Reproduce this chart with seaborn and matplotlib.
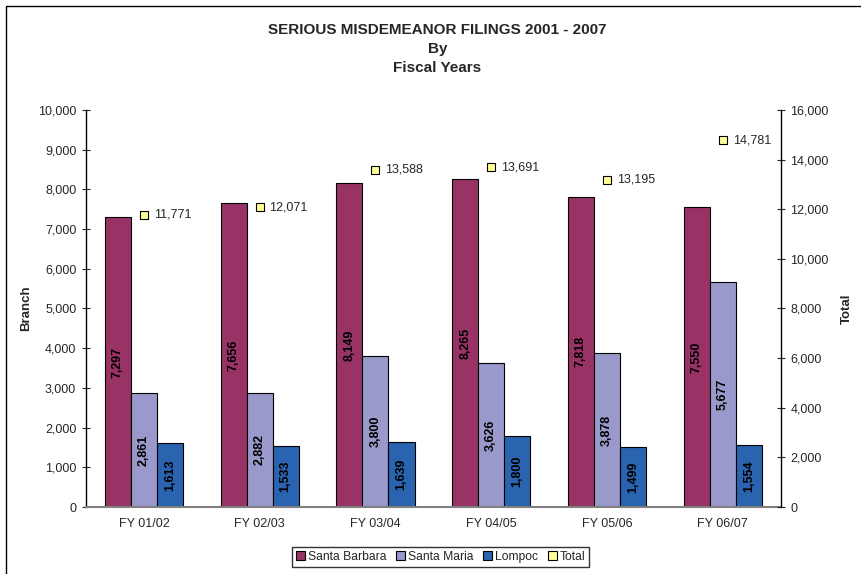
import numpy as np
import pandas as pd
import matplotlib
matplotlib.use('Agg')
import matplotlib.pyplot as plt
from matplotlib.patches import Rectangle, Patch
from matplotlib.ticker import FuncFormatter, MultipleLocator
import seaborn as sns

years = ['FY 01/02', 'FY 02/03', 'FY 03/04', 'FY 04/05', 'FY 05/06', 'FY 06/07']
santa_barbara = [7297, 7656, 8149, 8265, 7818, 7550]
santa_maria = [2861, 2882, 3800, 3626, 3878, 5677]
lompoc = [1613, 1533, 1639, 1800, 1499, 1554]
total = [11771, 12071, 13588, 13691, 13195, 14781]
branches = ['Santa Barbara', 'Santa Maria', 'Lompoc']
colors = ['#993366', '#9999CC', '#2A63B0']
title_lines = ['SERIOUS MISDEMEANOR FILINGS 2001 - 2007', 'By', 'Fiscal Years']

sns.set_style('white')
plt.rcParams['font.family'] = ['Liberation Sans', 'DejaVu Sans']

df = pd.DataFrame({
    'year': years * 3,
    'branch': sum([[b] * len(years) for b in branches], []),
    'count': santa_barbara + santa_maria + lompoc,
})

fig = plt.figure(figsize=(8.61, 5.74), dpi=100)
ax = fig.add_axes([0.0999, 0.1167, 0.8068, 0.6917])

sns.barplot(data=df, x='year', y='count', hue='branch', palette=colors,
            width=0.675, saturation=1, edgecolor='black', linewidth=0.8,
            ax=ax, legend=False)

# value labels inside bars
for cont in ax.containers:
    for rect in cont:
        h = rect.get_height()
        ax.text(rect.get_x() + rect.get_width() / 2, h / 2, format(int(round(h)), ','),
                rotation=90, ha='center', va='center', fontsize=9,
                fontweight='bold', color='black')

ax.set_xlim(-0.5, 5.5)
ax.set_ylim(0, 10000)
ax.yaxis.set_major_locator(MultipleLocator(1000))
fmt = FuncFormatter(lambda v, p: format(int(v), ','))
ax.yaxis.set_major_formatter(fmt)
ax.set_xlabel('')
ax.set_ylabel('Branch', fontsize=9.5, fontweight='bold', labelpad=4)
ax.set_xticks(range(6))
ax.set_xticklabels(years, fontsize=9)
ax.set_xticks(np.arange(-0.5, 6, 1), minor=True)
ax.tick_params(axis='x', which='major', length=0, pad=8)
ax.tick_params(axis='x', which='minor', length=4, width=0.8, color='black', direction='inout')
ax.tick_params(axis='y', length=6, width=0.8, direction='inout', labelsize=9, pad=4, left=True)
for s in ['top', 'right']:
    ax.spines[s].set_visible(False)
ax.spines['left'].set_color('black')
ax.spines['left'].set_linewidth(1)
ax.spines['bottom'].set_color('#808080')
ax.spines['bottom'].set_linewidth(1.5)

ax2 = ax.twinx()
sns.scatterplot(x=np.arange(len(total)), y=total, marker='s', s=36, color='#FFFF99',
                edgecolor='black', linewidth=0.8, ax=ax2, zorder=5)
for i, t in enumerate(total):
    ax2.text(i + 0.085, t, format(t, ','), ha='left', va='center', fontsize=9)
ax2.set_ylim(0, 16000)
ax2.set_xlim(-0.5, 5.5)
ax2.yaxis.set_major_locator(MultipleLocator(2000))
ax2.yaxis.set_major_formatter(fmt)
ax2.set_ylabel('Total', fontsize=9.5, fontweight='bold', labelpad=9)
ax2.tick_params(axis='y', length=6, width=0.8, direction='inout', labelsize=9, pad=4, right=True)
for s in ['top', 'left', 'bottom']:
    ax2.spines[s].set_visible(False)
ax2.spines['right'].set_color('black')
ax2.spines['right'].set_linewidth(1)

for line, yy in zip(title_lines, [0.9477, 0.9146, 0.8815]):
    fig.text(0.508, yy, line, ha='center', va='center', fontsize=11, fontweight='bold')

handles = [Patch(facecolor=c, edgecolor='black', linewidth=0.8) for c in colors]
handles.append(Patch(facecolor='#FFFF99', edgecolor='black', linewidth=0.8))
fig.legend(handles, branches + ['Total'], loc='center', bbox_to_anchor=(0.512, 0.0295),
           ncol=4, fontsize=8.7, frameon=True, fancybox=False, edgecolor='black',
           handlelength=0.75, handleheight=0.75, handletextpad=0.25, columnspacing=0.8,
           borderpad=0.3, borderaxespad=0)

fig.patches.append(Rectangle((0.007, -0.1), 1.5, 1.0895, transform=fig.transFigure,
                             fill=False, edgecolor='black', linewidth=1))

fig.savefig('out.png', dpi=100)
